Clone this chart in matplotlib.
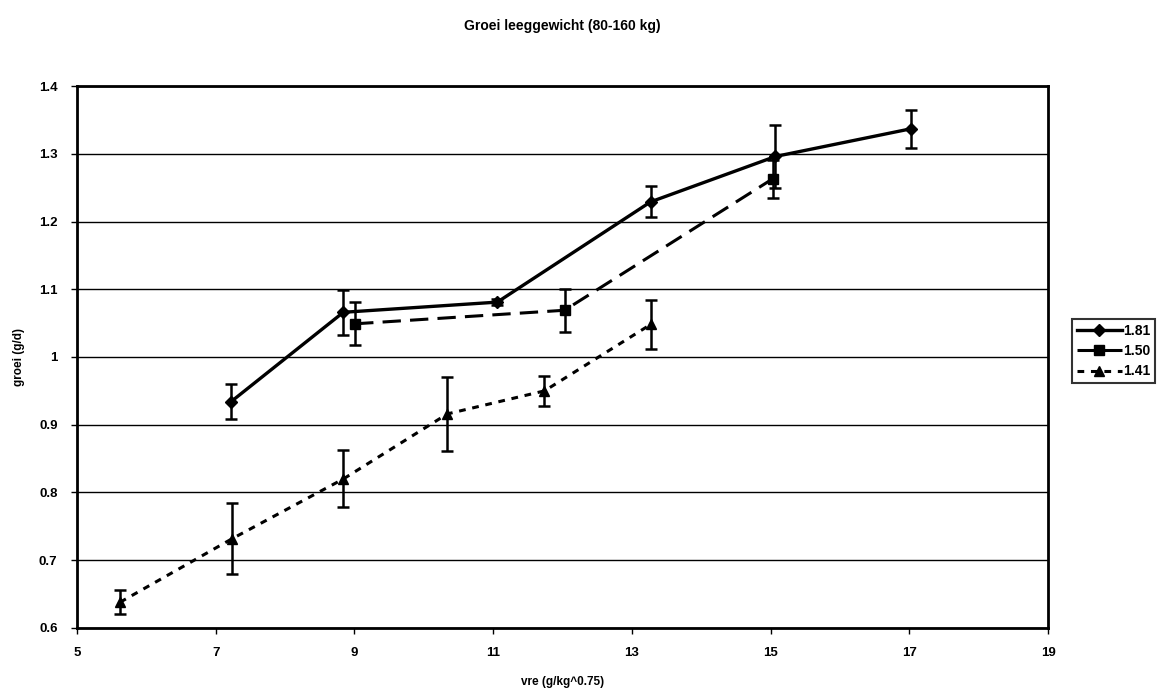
import matplotlib
matplotlib.use("Agg")
import matplotlib.pyplot as plt

plt.rcParams['font.family'] = ['Liberation Sans', 'DejaVu Sans']
plt.rcParams['font.weight'] = 'bold'

labels = ['1.81', '1.50', '1.41']

# series 1.81
x_181 = [7.22, 8.84, 11.06, 13.27, 15.07, 17.03]
y_181 = [0.934, 1.066, 1.081, 1.229, 1.296, 1.337]
e_181 = [0.026, 0.033, 0.004, 0.023, 0.047, 0.028]

# series 1.50
x_150 = [9.01, 12.03, 15.03]
y_150 = [1.049, 1.069, 1.263]
e_150 = [0.032, 0.032, 0.028]

# series 1.41
x_141 = [5.62, 7.24, 8.84, 10.34, 11.74, 13.27]
y_141 = [0.638, 0.732, 0.820, 0.916, 0.950, 1.048]
e_141 = [0.018, 0.053, 0.042, 0.055, 0.022, 0.036]

fig = plt.figure(figsize=(11.74, 6.93), dpi=100)
ax = fig.add_axes([0.0656, 0.0938, 0.8271, 0.7821])

eb = dict(capsize=4, elinewidth=1.8, capthick=1.8, ecolor='black')
c1 = ax.errorbar(x_181, y_181, yerr=e_181, color='black', lw=2.4, ls='-',
                 marker='D', ms=6, **eb)
c2 = ax.errorbar(x_150, y_150, yerr=e_150, color='black', lw=2.2, ls=(0, (6, 3)),
                 marker='s', ms=7, **eb)
c3 = ax.errorbar(x_141, y_141, yerr=e_141, color='black', lw=2.2, ls=(0, (2.2, 2.2)),
                 marker='^', ms=7.5, **eb)

ax.set_xlim(5, 19)
ax.set_ylim(0.6, 1.4)
ax.set_xticks([5, 7, 9, 11, 13, 15, 17, 19])
ax.set_yticks([0.6, 0.7, 0.8, 0.9, 1.0, 1.1, 1.2, 1.3, 1.4])
ax.set_yticklabels(['0.6', '0.7', '0.8', '0.9', '1', '1.1', '1.2', '1.3', '1.4'])
ax.grid(axis='y', color='black', lw=1)
ax.set_axisbelow(True)
for s in ax.spines.values():
    s.set_linewidth(2)
    s.set_color('black')
ax.tick_params(axis='both', direction='out', length=4, width=1, labelsize=9.5, pad=10)

ax.set_title('Groei leeggewicht (80-160 kg)', fontsize=10, fontweight='bold', pad=40)
ax.set_xlabel('vre (g/kg^0.75)', fontsize=8.5, fontweight='bold', labelpad=12)
ax.set_ylabel('groei (g/d)', fontsize=8.5, fontweight='bold', labelpad=10)

leg = ax.legend([c1[0], c2[0], c3[0]], labels, loc='upper left',
                bbox_to_anchor=(1.025, 0.57), frameon=True, fancybox=False,
                edgecolor='black', fontsize=10, handlelength=3.2,
                borderpad=0.35, labelspacing=0.45, handletextpad=0.1, borderaxespad=0)
leg.get_frame().set_linewidth(1.5)

fig.savefig('out.png', dpi=100)
